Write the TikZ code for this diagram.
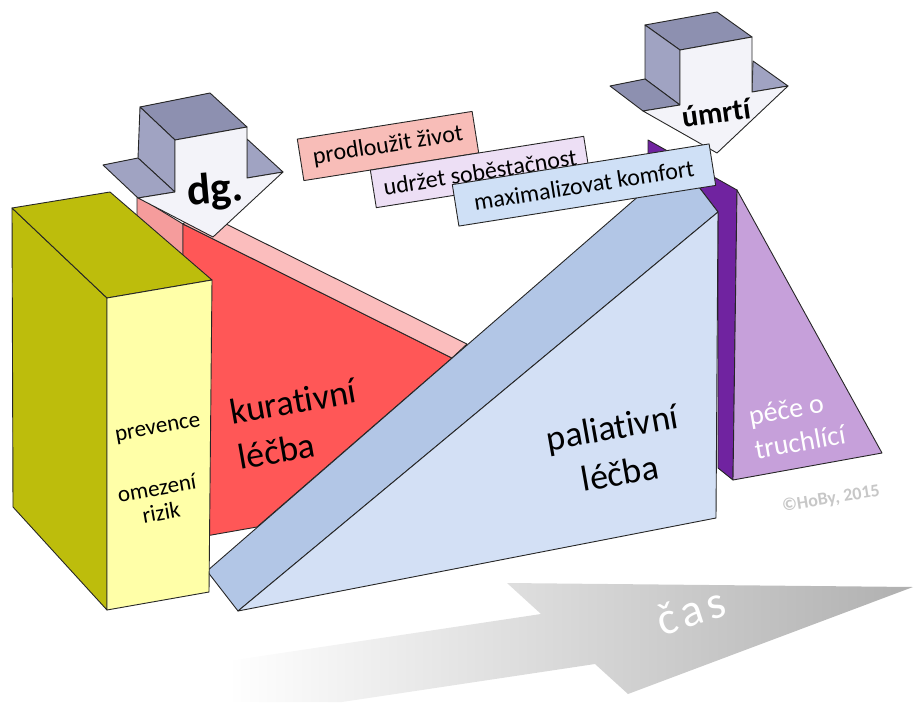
\documentclass[tikz,border=0pt]{standalone}
\usepackage{fontspec}
\setmainfont{Carlito}[Ligatures={NoCommon,NoContextual,NoRequired}]
\usepackage{tikz}
\usepackage{xcolor}

\definecolor{yfront}{HTML}{FFFFA8}
\definecolor{yside}{HTML}{BDBD0C}
\definecolor{rfront}{HTML}{FF5757}
\definecolor{rside}{HTML}{F59C9C}
\definecolor{rtop}{HTML}{FBBDBD}
\definecolor{bfront}{HTML}{D3E0F5}
\definecolor{bslope}{HTML}{B2C6E6}
\definecolor{pdark}{HTML}{7023A0}
\definecolor{plight}{HTML}{C6A0DA}
\definecolor{atop}{HTML}{8D90B0}
\definecolor{aside}{HTML}{A0A3C2}
\definecolor{afront}{HTML}{F3F3F9}
\definecolor{lpink}{HTML}{F8BDB8}
\definecolor{llav}{HTML}{EDDFF5}
\definecolor{lblue}{HTML}{CFE0F6}

\begin{document}
\begin{tikzpicture}[x=1pt,y=-1pt,
  face/.style={draw=black!85,line width=0.9pt,line join=round},
  goal/.style={face,rotate=9,inner sep=0pt,minimum height=42pt,font=\fontsize{24}{28}\selectfont},
  tag/.style={rotate=10,font=\fontsize{36}{46}\selectfont}]
\useasboundingbox (0,0) rectangle (916,702);
\shade[left color=white,middle color=black!20,right color=black!31]
  (228,661) -- (541,614) -- (507,583) -- (913,587) -- (628,694) -- (595,664) -- (342,702) -- (228,702) -- cycle;
\node[white,rotate=18,font=\fontsize{46}{46}\selectfont\addfontfeature{LetterSpace=12}] (cas) at (691,611) {čas};
\filldraw[face,fill=pdark] (648,140) -- (737,190) -- (733,480) -- (718,468) -- (718,212) -- (679,161) -- (648,160) -- cycle;
\filldraw[face,fill=plight] (737,190) -- (882,453) -- (733,480) -- cycle;
\node[white,align=left,rotate=10,font=\fontsize{28}{34}\selectfont] (truch) at (797,425) {péče o\\truchlící};
\filldraw[face,fill=rside] (137,196) -- (183,224) -- (183,540) -- (137,520) -- cycle;
\filldraw[face,fill=rfront] (183,224) -- (452,358) -- (257,527) -- (183,540) -- cycle;
\filldraw[face,fill=rtop] (183,224) -- (198,210) -- (467,344) -- (452,358) -- cycle;
\filldraw[face,fill=bslope] (207,571) -- (679,161) -- (718,212) -- (238,611) -- cycle;
\filldraw[face,fill=bfront] (238,611) -- (718,212) -- (716,518) -- cycle;
\filldraw[face,fill=yside] (12,208) -- (107,298) -- (107,610) -- (13,507) -- cycle;
\filldraw[face,fill=yside] (12,208) -- (110,192) -- (212,280) -- (107,298) -- cycle;
\filldraw[face,fill=yfront] (107,298) -- (212,280) -- (209,592) -- (107,610) -- cycle;
\node[rotate=10,font=\fontsize{23}{25}\selectfont] (prev) at (158,430) {prevence};
\node[rotate=10,align=center,font=\fontsize{23}{25}\selectfont] (omez) at (159,500) {omezení\\rizik};
\filldraw[face,fill=atop] (140,107) -- (210,93) -- (247,127) -- (175,140) -- cycle;
\filldraw[face,fill=aside] (140,107) -- (175,140) -- (175,192) -- (138,158) -- cycle;
\filldraw[face,fill=aside] (103,165) -- (138,158) -- (175,192) -- (138,198) -- cycle;
\filldraw[face,fill=aside] (247,139) -- (283,172) -- (247,178) -- cycle;
\filldraw[face,fill=afront] (175,140) -- (247,127) -- (247,178) -- (283,172) -- (213,237) -- (138,198) -- (175,192) -- cycle;
\node[font=\fontsize{44}{44}\selectfont\bfseries,rotate=5] (dg) at (215,191) {dg.};
\filldraw[face,fill=atop] (645,25) -- (717,12) -- (752,37) -- (680,50) -- cycle;
\filldraw[face,fill=aside] (645,25) -- (680,50) -- (680,105) -- (645,79) -- cycle;
\filldraw[face,fill=atop] (610,86) -- (645,79) -- (680,105) -- (643,111) -- cycle;
\filldraw[face,fill=aside] (753,61) -- (788,86) -- (752,92) -- cycle;
\filldraw[face,fill=afront] (680,50) -- (752,37) -- (752,92) -- (788,86) -- (717,153) -- (643,111) -- (680,105) -- cycle;
\node[font=\fontsize{30}{30}\selectfont\bfseries,rotate=8] (umrti) at (716,113) {úmrtí};
\node[goal,fill=lpink,minimum width=177pt] (prodl) at (388,146) {prodloužit život};
\node[goal,fill=llav,minimum width=216pt,minimum height=38pt] (udrz) at (480,172) {udržet soběstačnost};
\node[goal,fill=lblue,minimum width=260pt] (maxk) at (584,185) {maximalizovat komfort};
\node[tag,align=left] (kur) at (297,424) {kurativní\\léčba};
\node[tag,align=center] (pal) at (616,450) {paliativní\\léčba};
\node[rotate=9,font=\fontsize{18}{18}\selectfont\bfseries,text=black!22] (hoby) at (831,499) {©HoBy, 2015};
\end{tikzpicture}
\end{document}
